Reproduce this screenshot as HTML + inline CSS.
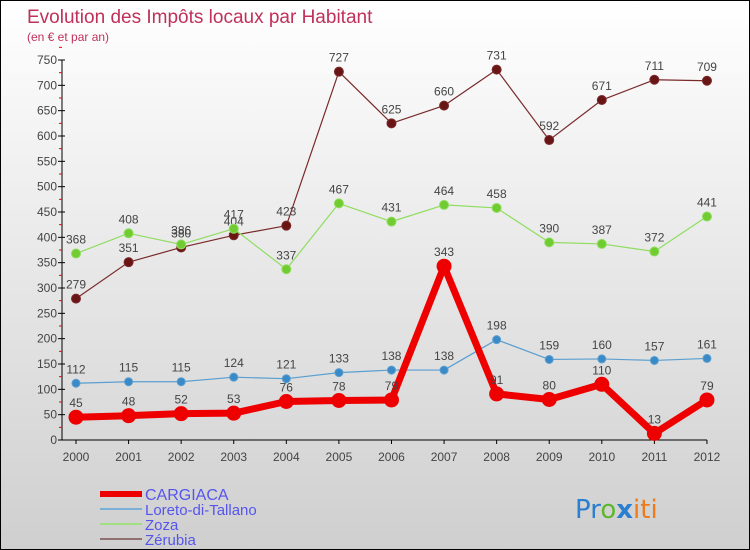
<!DOCTYPE html>
<html><head><meta charset="utf-8"><style>
body{margin:0}
#wrap{width:748px;height:548px;border:1px solid #000;position:relative;background:linear-gradient(#ffffff,#cfcfcf);font-family:"Liberation Sans",sans-serif;overflow:hidden}
</style></head><body>
<div id="wrap">
<svg id="svg" width="748" height="548">
<text x="26" y="22" font-size="19" fill="#c0305a">Evolution des Impôts locaux par Habitant</text>
<text x="26" y="40" font-size="12" fill="#c0305a">(en € et par an)</text>
<g id="plot"></g>
<text x="574" y="517" font-size="26" font-family="DejaVu Sans"><tspan fill="#2a7fd0">Pr</tspan><tspan fill="#5cb82c">o</tspan><tspan fill="#2a7fd0" font-weight="bold">x</tspan><tspan fill="#f07a1a">iti</tspan></text>
</svg>
</div>
<script>
const years=[2000,2001,2002,2003,2004,2005,2006,2007,2008,2009,2010,2011,2012];
const cargiaca=[45,48,52,53,76,78,79,343,91,80,110,13,79];
const loreto=[112,115,115,124,121,133,138,138,198,159,160,157,161];
const zoza=[368,408,386,417,337,467,431,464,458,390,387,372,441];
const zerubia=[279,351,380,404,423,727,625,660,731,592,671,711,709];
const yTicks=[0,50,100,150,200,250,300,350,400,450,500,550,600,650,700,750];
const NS="http://www.w3.org/2000/svg";
const g=document.getElementById('plot');
function X(i){return 75+i*52.58;}
function Y(v){return 439-v*380/750;}
function mk(t,a){const e=document.createElementNS(NS,t);for(const k in a)e.setAttribute(k,a[k]);g.appendChild(e);return e;}
let ax=mk('line',{x1:61,y1:Y(0),x2:61,y2:Y(750),stroke:'#000'});


let bx=mk('line',{x1:61,y1:Y(0),x2:X(12),y2:Y(0),stroke:'#000'});


yTicks.forEach(v=>{
 mk('line',{x1:57,y1:Y(v),x2:64,y2:Y(v),stroke:'#000'});
 mk('line',{x1:58,y1:Y(v+25),x2:61,y2:Y(v+25),stroke:'#e00'});
 let t=mk('text',{x:56,y:Y(v)+4,'font-size':12,fill:'#444','text-anchor':'end'});t.textContent=v;
 
 
});
years.forEach((yr,i)=>{
 mk('line',{x1:X(i),y1:Y(0),x2:X(i),y2:Y(0)+4,stroke:'#000'});
 let t=mk('text',{x:X(i),y:Y(0)+21,'font-size':12,fill:'#444','text-anchor':'middle'});t.textContent=yr;
 
 
});
function series(d,col,dot,w,r,name){
 let p=mk('polyline',{points:d.map((v,i)=>X(i)+','+Y(v)).join(' '),fill:'none',stroke:col,'stroke-width':w,'stroke-linejoin':'round'});
 
 
 d.forEach((v,i)=>{
  let c=mk('circle',{cx:X(i),cy:Y(v),r:r,fill:dot,stroke:col,'stroke-width':1});
  
  
 });
 d.forEach((v,i)=>{
  let t=mk('text',{x:X(i),y:Y(v)-10,'font-size':12,fill:'#444','text-anchor':'middle'});t.textContent=v;
  
  
 });
}
series(zerubia,'#7a2a2a','#6a1515',1.2,4.5,'zerubia');
series(zoza,'#90dd60','#70cc30',1.2,4.5,'zoza');
series(loreto,'#5a9fd0','#3a8ac8',1.2,4,'loreto');
series(cargiaca,'#ee0000','#ee0000',7,7,'cargiaca');
const leg=[['CARGIACA','#ee0000',6],['Loreto-di-Tallano','#7ab0d8',2],['Zoza','#a0e080',2],['Zérubia','#907070',2]];
leg.forEach((l,i)=>{
 let y=493+i*15;
 let ln=mk('line',{x1:99,y1:y,x2:141,y2:y,stroke:l[1],'stroke-width':l[2]});
 
 
 let t=mk('text',{x:144,y:y+6,'font-size':i==0?16:15,fill:'#5555ee'});t.textContent=l[0];
 
 
});
</script>
</body></html>
